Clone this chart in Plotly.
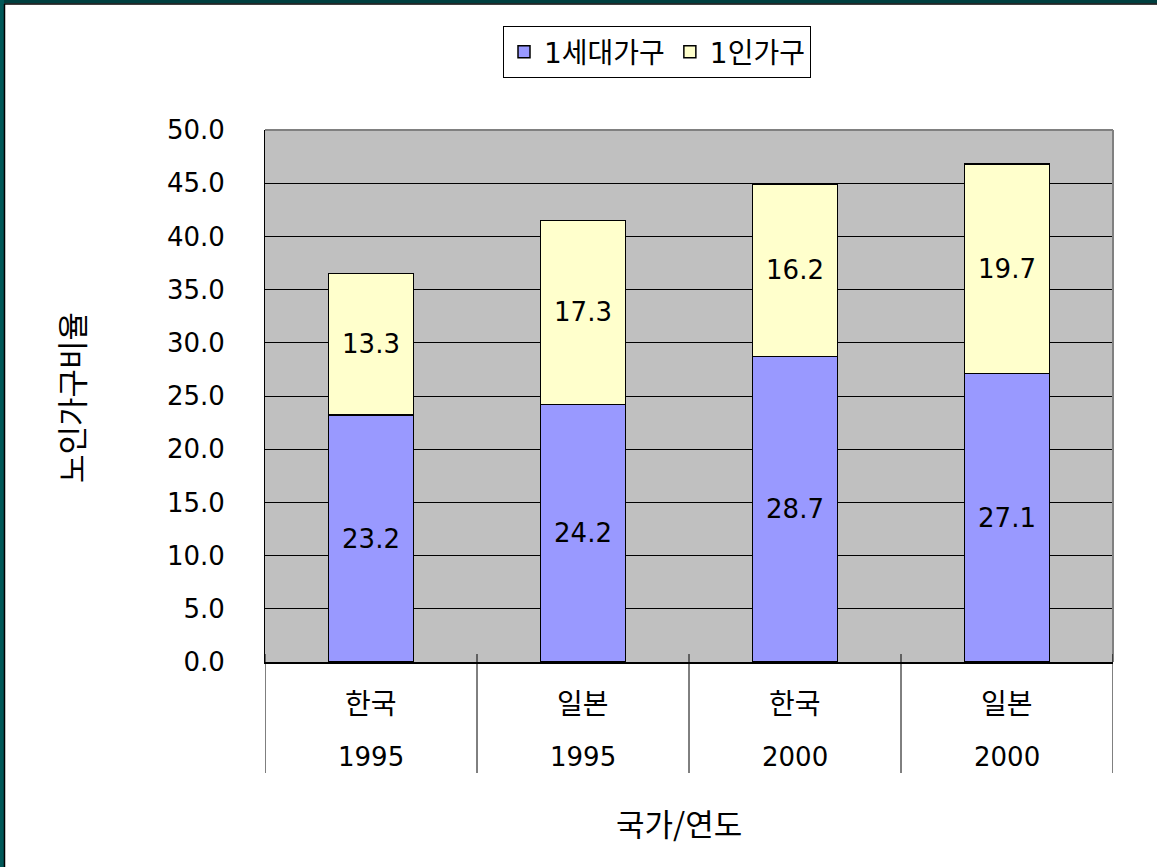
import plotly.graph_objects as go

countries = ["한국", "일본", "한국", "일본"]
years = ["1995", "1995", "2000", "2000"]
gen1 = [23.2, 24.2, 28.7, 27.1]
single = [13.3, 17.3, 16.2, 19.7]
series_names = ["1세대가구", "1인가구"]
y_ticks = [0, 5, 10, 15, 20, 25, 30, 35, 40, 45, 50]

W, H = 1157, 867
L, R, T, B = 265, 44, 130, 205
PW, PH = W - L - R, H - T - B

FONT = "DejaVu Sans, Noto Sans CJK KR, sans-serif"
KFONT = "Noto Sans CJK KR, DejaVu Sans, sans-serif"
xs = list(range(len(countries)))

fig = go.Figure()
fig.add_trace(go.Bar(
    x=xs, y=gen1, name=series_names[0], width=0.4,
    marker=dict(color="#9999FF", line=dict(color="black", width=1.5)),
    text=[f"{v:.1f}" for v in gen1], textposition="inside", insidetextanchor="middle",
    textfont=dict(size=26, color="black", family=FONT),
))
fig.add_trace(go.Bar(
    x=xs, y=single, name=series_names[1], width=0.4,
    marker=dict(color="#FFFFCC", line=dict(color="black", width=1.5)),
    text=[f"{v:.1f}" for v in single], textposition="inside", insidetextanchor="middle",
    textfont=dict(size=26, color="black", family=FONT),
))

shapes = []
# plot border top/right (gray)
shapes.append(dict(type="line", xref="paper", yref="paper", x0=0, x1=1, y0=1, y1=1,
                   line=dict(color="#808080", width=2)))
shapes.append(dict(type="line", xref="paper", yref="paper", x0=1, x1=1, y0=0, y1=1,
                   line=dict(color="#808080", width=2)))
# category dividers
ext = (773 - 662) / PH
for b in [-0.5, 0.5, 1.5, 2.5, 3.5]:
    shapes.append(dict(type="line", xref="x", yref="paper", x0=b, x1=b, y0=0.015, y1=-ext,
                       line=dict(color="black", width=1)))
# outer slide frame
fx0, fx1 = -L / PW, 1 + R / PW
fy0, fy1 = -B / PH, 1 + T / PH
shapes.append(dict(type="line", xref="paper", yref="paper", x0=fx0, x1=fx1,
                   y0=fy1 - 1.5 / PH, y1=fy1 - 1.5 / PH, line=dict(color="#003F3F", width=4)))
shapes.append(dict(type="line", xref="paper", yref="paper", x0=fx0, x1=fx1,
                   y0=fy1 - 4 / PH, y1=fy1 - 4 / PH, line=dict(color="black", width=1.5)))
shapes.append(dict(type="line", xref="paper", yref="paper", x0=fx0 + 2 / PW, x1=fx0 + 2 / PW,
                   y0=fy0, y1=fy1, line=dict(color="#005858", width=4)))
shapes.append(dict(type="line", xref="paper", yref="paper", x0=fx0 + 4.5 / PW, x1=fx0 + 4.5 / PW,
                   y0=fy0, y1=fy1 - 4 / PH, line=dict(color="black", width=1.5)))

annotations = []
for i, (c, yv) in enumerate(zip(countries, years)):
    annotations.append(dict(x=i, y=-(702 - 662) / PH, xref="x", yref="paper", text=c,
                            xanchor="center", yanchor="middle",
                            showarrow=False, font=dict(size=28, color="black", family=KFONT)))
    annotations.append(dict(x=i, y=-(757 - 662) / PH, xref="x", yref="paper", text=yv,
                            xanchor="center", yanchor="middle",
                            showarrow=False, font=dict(size=26, color="black", family=FONT)))
annotations.append(dict(x=(679 - L) / PW, y=-(822 - 662) / PH, xref="paper", yref="paper",
                        text="국가/연도", showarrow=False, xanchor="center", yanchor="middle",
                        font=dict(size=31, color="black", family=KFONT)))
annotations.append(dict(x=-(L - 70) / PW, y=(662 - 398) / PH, xref="paper", yref="paper",
                        text="노인가구비율", showarrow=False, textangle=-90,
                        xanchor="center", yanchor="middle",
                        font=dict(size=31, color="black", family=KFONT)))

fig.update_layout(
    width=W, height=H,
    margin=dict(l=L, r=R, t=T, b=B),
    barmode="stack",
    paper_bgcolor="white",
    plot_bgcolor="#C0C0C0",
    font=dict(family=FONT, color="black"),
    xaxis=dict(range=[-0.5, 3.5], showticklabels=False, showgrid=False, zeroline=False,
               showline=True, linecolor="black", linewidth=2, ticks=""),
    yaxis=dict(range=[0, 50], tickvals=y_ticks, tickformat=".1f",
               tickfont=dict(size=26, color="black", family=FONT),
               showgrid=True, gridcolor="black", gridwidth=1, zeroline=False,
               showline=True, linecolor="black", linewidth=1,
               ticks="", ticklabelstandoff=34),
    legend=dict(orientation="h", x=(657 - L) / PW, y=(662 - 26) / PH,
                xanchor="center", yanchor="top",
                bordercolor="black", borderwidth=1, bgcolor="white",
                font=dict(size=28, color="black", family=FONT),
                itemwidth=30, traceorder="normal"),
    shapes=shapes,
    annotations=annotations,
    bargap=0.6,
)

fig.write_html("out.html", config={"displayModeBar": False},
               post_script="document.body.style.margin='0px';")
